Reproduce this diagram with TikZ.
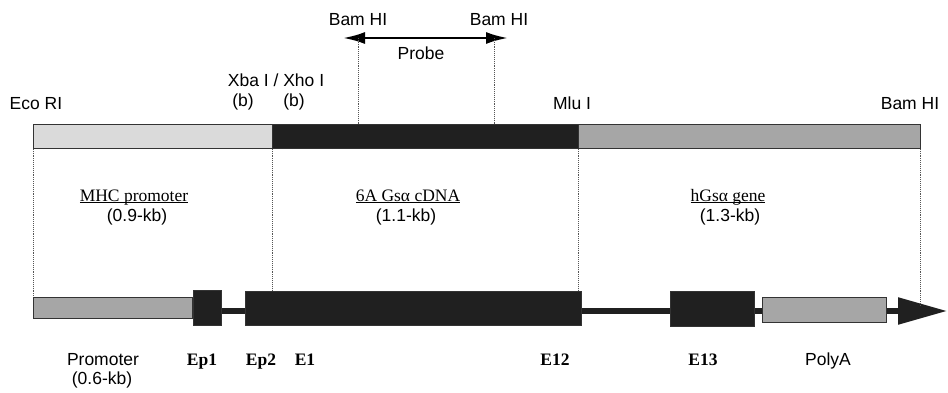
\documentclass[tikz,border=0pt]{standalone}
\usepackage{fontspec}
\setmainfont{Liberation Serif}
\setsansfont{Liberation Sans}
\usetikzlibrary{arrows.meta,positioning}
\definecolor{barlight}{HTML}{DADADA}
\definecolor{bargrey}{HTML}{A6A6A6}
\definecolor{exondark}{HTML}{202020}
\definecolor{outline}{HTML}{333333}
\definecolor{guidegrey}{HTML}{555555}
\newcommand{\regionname}[1]{\underline{\smash{#1}}}

\begin{document}
\begin{tikzpicture}[x=1pt,y=-1pt,
  seg/.style={draw=outline,line width=0.9pt,anchor=north west,inner sep=0pt,minimum height=24pt},
  exon/.style={draw=outline,fill=exondark,line width=0.6pt,anchor=north west,inner sep=0pt,minimum height=35pt},
  grbox/.style={draw=outline,fill=bargrey,line width=0.6pt,anchor=north west,inner sep=0pt},
  guide/.style={guidegrey,densely dotted,line width=0.9pt},
  site/.style={font=\sffamily\fontsize{17.5}{20}\selectfont,anchor=base,inner sep=0pt},
  region/.style={font=\rmfamily\fontsize{17.5}{20}\selectfont,anchor=base,inner sep=0pt},
  exlabel/.style={font=\rmfamily\bfseries\fontsize{17.5}{20}\selectfont,anchor=base,inner sep=0pt}]

% Frame
\useasboundingbox (0,0) rectangle (948,393);

% ===== CONSTRUCT BAR (top) =====
\node[seg,fill=barlight,minimum width=239pt] (mhc) at (33,124) {};
\node[seg,fill=exondark,minimum width=306pt] (cdna) at (272,124) {};
\node[seg,fill=bargrey,minimum width=342pt] (hgs) at (578,124) {};

% Restriction sites
\node[site] (eco) at (36,110) {Eco RI};
\node[site] (xba) at (276,87) {Xba I / Xho I};
\node[site] (bxba) at (243,107) {(b)};
\node[site] (bxho) at (294,107) {(b)};
\node[site] (mlu) at (572,110) {Mlu I};
\node[site] (bamend) at (910,110) {Bam HI};

% Probe
\coordinate (probeL) at (343,38);
\coordinate (probeR) at (508,38);
\coordinate (cutL) at (358,38);
\coordinate (cutR) at (494,38);
\node[site] (bamL) at (358,26) {Bam HI};
\node[site] (bamR) at (499,26) {Bam HI};
\node[site] (probe) at (421,60) {Probe};
\draw[line width=2.5pt,{Latex[length=22pt,width=12pt]}-{Latex[length=22pt,width=12pt]}]
  (probeL) -- (probeR);
\draw[guide] (cutL) -- (cutL |- cdna.north);
\draw[guide] (cutR) -- (cutR |- cdna.north);

% Region labels
\node[region] (mhclab) at (134,201) {\regionname{MHC promoter}};
\node[site] (mhckb) at (137,221) {(0.9-kb)};
\node[region] (cdnalab) at (408,201) {\regionname{6A Gsα cDNA}};
\node[site] (cdnakb) at (406,221) {(1.1-kb)};
\node[region] (hgslab) at (728,201) {\regionname{hGsα gene}};
\node[site] (hgskb) at (730,221) {(1.3-kb)};

% ===== GENE MAP (bottom) =====
% Axis with arrow
\coordinate (axstart) at (207,311);
\coordinate (tip) at (947,311);
\draw[exondark,line width=5.5pt,-{Triangle[length=49pt,width=26pt]}] (axstart) -- (tip);

\node[grbox,minimum width=159pt,minimum height=21pt] (prom) at (33,297) {};
\node[exon,minimum width=28pt] (ep1) at (193,290) {};
\node[exon,minimum width=336pt,minimum height=34pt] (exmain) at (245,291) {};
\node[exon,minimum width=84pt] (e13) at (670,291) {};
\node[grbox,minimum width=124pt,minimum height=25pt] (polya) at (762,297) {};

% Guide lines between maps
\draw[guide] (mhc.south west) -- (mhc.south west |- prom.north);
\draw[guide] (mhc.south east) -- (mhc.south east |- exmain.north);
\draw[guide] (cdna.south east) -- (cdna.south east |- exmain.north);
\draw[guide] (hgs.south east) -- ++(0,156);

% Exon labels
\node[site] (promlab) at (103,365) {Promoter};
\node[site] (promkb) at (102,384) {(0.6-kb)};
\node[exlabel] (ep1lab) at (202,365) {Ep1};
\node[exlabel] (ep2lab) at (261,365) {Ep2};
\node[exlabel] (e1lab) at (305,365) {E1};
\node[exlabel] (e12lab) at (555,365) {E12};
\node[exlabel] (e13lab) at (703,365) {E13};
\node[site] (polyalab) at (828,365) {PolyA};

\end{tikzpicture}
\end{document}
